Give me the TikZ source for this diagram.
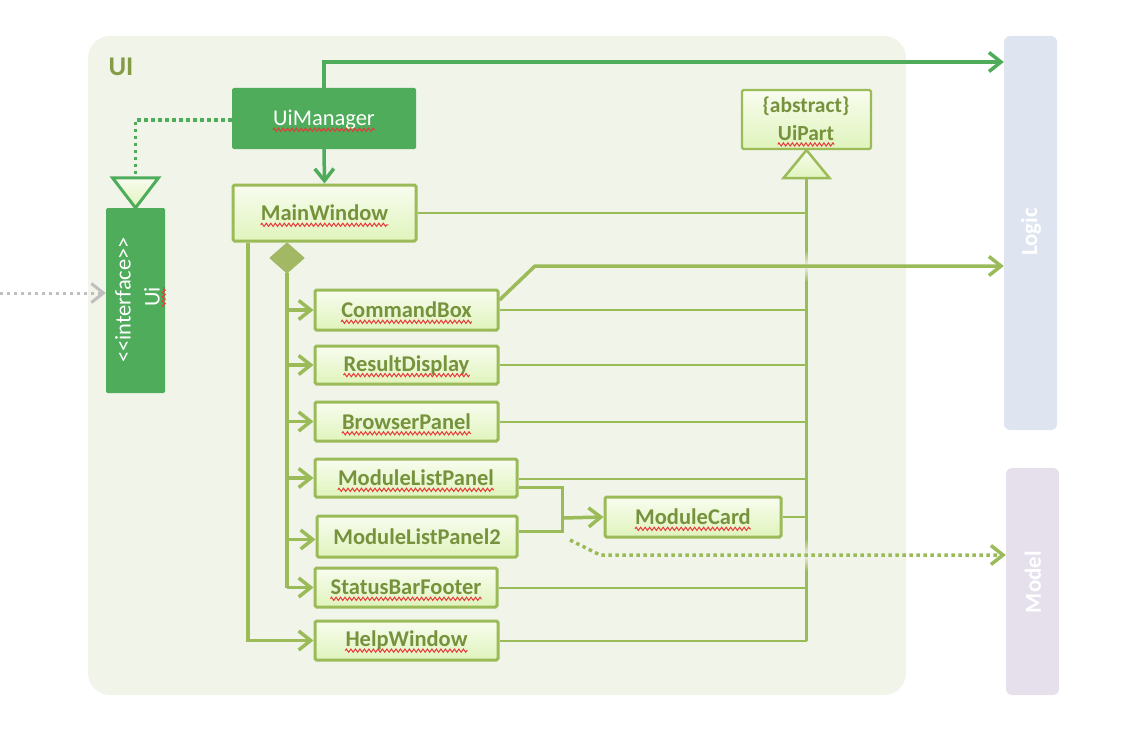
\documentclass[tikz,border=0pt]{standalone}
\usepackage{fontspec}
\setmainfont{Carlito}
\usetikzlibrary{arrows.meta,calc,decorations.pathmorphing,fadings}
\tikzfading[name=myglow, inner color=transparent!0, outer color=transparent!100]
\definecolor{uigreen}{HTML}{4EAC5B}
\definecolor{olive}{HTML}{9BBB59}
\definecolor{olivetext}{HTML}{76923C}
\definecolor{uilabel}{HTML}{849C45}
\definecolor{uibg}{HTML}{F1F4E9}
\definecolor{gradtop}{HTML}{F8FCEF}
\definecolor{gradbot}{HTML}{E0F4BC}
\definecolor{logicbg}{HTML}{DFE5F0}
\definecolor{modelbg}{HTML}{E5E0EC}
\definecolor{squigred}{HTML}{E8393A}
\definecolor{grayarrow}{HTML}{BFBFBF}
\definecolor{diafill}{HTML}{A2B865}
\newcommand\redsquig[1]{\draw[squig] ($(#1.base west)!4pt!-90:(#1.base east)$) -- ($(#1.base east)!4pt!90:(#1.base west)$);}
\begin{document}
\begin{tikzpicture}[x=1pt,y=-1pt,
  cls/.style={draw=olive, line width=3pt, top color=gradtop, bottom color=gradbot, rounded corners=1.5pt, inner sep=0pt},
  clstxt/.style={inner sep=0pt, font=\fontsize{22.5}{26}\selectfont\bfseries, text=olivetext},
  solid green/.style={fill=uigreen, rounded corners=1.5pt, inner sep=0pt},
  whitetxt/.style={inner sep=0pt, font=\fontsize{22.5}{26}\selectfont, text=white},
  squig/.style={draw=squigred, line width=1pt, decorate, decoration={zigzag, amplitude=1.6pt, segment length=4.5pt}},
  assoc/.style={draw=olive, line width=2pt},
  bar/.style={draw=olive, line width=3.5pt},
  tip/.style={-{Straight Barb[length=12pt,width=19pt]}},
  comp/.style={draw=olive, line width=3.5pt, tip},
  deparrow/.style={draw=uigreen, line width=3.5pt, tip},
  glow/.style={fill=uibg, path fading=myglow},
]
\useasboundingbox (0,0) rectangle (1128,752);

% regions
\node[fill=uibg, rounded corners=22pt, minimum width=818pt, minimum height=659pt, inner sep=0pt] (uiarea) at (497,365.5) {};
\node[uilabel, inner sep=0pt, font=\fontsize{27}{28}\selectfont\bfseries] (uilbl) at (121,67) {UI};
\node[fill=logicbg, rounded corners=6pt, minimum width=53pt, minimum height=394pt, inner sep=0pt] (logic) at (1030.5,233) {};
\node[rotate=90, inner sep=0pt, text=white, font=\fontsize{23}{26}\selectfont\bfseries] (logict) at (1031,232) {Logic};
\node[fill=modelbg, rounded corners=6pt, minimum width=53pt, minimum height=227pt, inner sep=0pt] (model) at (1032.5,581.5) {};
\node[rotate=90, inner sep=0pt, text=white, font=\fontsize{23}{26}\selectfont\bfseries] (modelt) at (1033,582) {Model};

% green classes
\node[solid green, minimum width=184pt, minimum height=61pt] (uim) at (324,118.5) {};
\node[whitetxt] (uimt) at (324,120) {UiManager};
\redsquig{uimt}
\node[solid green, minimum width=59pt, minimum height=185pt] (uiif) at (135.5,300.5) {};
\node[whitetxt, rotate=90] (uiift) at (123,300) {<{}<interface>{}>};
\node[whitetxt, rotate=90] (uiiut) at (152,297) {Ui};
\redsquig{uiiut}

% olive classes
\node[cls, minimum width=183pt, minimum height=56pt] (mw) at (324.5,213) {};
\node[clstxt] (mwt) at (mw) {MainWindow};
\node[cls, line width=2.2pt, minimum width=129pt, minimum height=59pt] (uip) at (806.5,119.5) {};
\node[clstxt, font=\fontsize{21.5}{24}\selectfont\bfseries] (uipa) at (806,106) {\{abstract\}};
\node[clstxt, font=\fontsize{21.5}{24}\selectfont\bfseries] (uipt) at (806,133) {UiPart};
\node[cls, minimum width=183pt, minimum height=40pt] (cb) at (406.5,310) {};
\node[clstxt] (cbt) at (cb) {CommandBox};
\node[cls, minimum width=183pt, minimum height=38pt] (rd) at (406.5,365) {};
\node[clstxt] (rdt) at (rd) {ResultDisplay};
\node[cls, minimum width=183pt, minimum height=39pt] (bp) at (406.5,421.5) {};
\node[clstxt] (bpt) at (bp) {BrowserPanel};
\node[cls, minimum width=202pt, minimum height=38pt] (mlp) at (416,478) {};
\node[clstxt] (mlpt) at (mlp) {ModuleListPanel};
\node[cls, minimum width=200pt, minimum height=41pt] (mlp2) at (417,536.5) {};
\node[clstxt] (mlp2t) at (mlp2) {ModuleListPanel2};
\node[cls, minimum width=182pt, minimum height=39pt] (sbf) at (406,587.5) {};
\node[clstxt] (sbft) at (sbf) {StatusBarFooter};
\node[cls, minimum width=183pt, minimum height=39pt] (hw) at (406.5,640.5) {};
\node[clstxt] (hwt) at (hw) {HelpWindow};
\node[cls, minimum width=176pt, minimum height=40pt] (mc) at (693,517) {};
\node[clstxt] (mct) at (mc) {ModuleCard};

\redsquig{mwt}\redsquig{uipt}\redsquig{cbt}\redsquig{rdt}\redsquig{bpt}
\redsquig{mlpt}\redsquig{sbft}\redsquig{hwt}\redsquig{mct}

% inheritance to UiPart
\draw[olive, line width=2.5pt, top color=gradtop, bottom color=gradbot, line join=miter]
  (uip.south) -- ++(-23,28) -- ++(46,0) -- cycle;
\coordinate (barTop) at (806.5,177);
\coordinate (barBot) at (806.5,641);
\draw[bar] (barTop) -- (barBot);
\draw[assoc] (mw.east) -- (mw.east -| barTop);
\draw[assoc] (cb.east) -- (cb.east -| barTop);
\draw[assoc] (rd.east) -- (rd.east -| barTop);
\draw[assoc] (bp.east) -- (bp.east -| barTop);
\draw[assoc] ([yshift=-1pt]mlp.east) -- ([yshift=-1pt]mlp.east -| barTop);
\draw[assoc] (mc.east) -- (mc.east -| barTop);
\draw[assoc] (sbf.east) -- (sbf.east -| barTop);
\draw[assoc] (hw.east) -- (hw.east -| barTop);

% UiManager realizes Ui
\coordinate (realTop) at ($(uiif.north)+(0,-30)$);
\draw[uigreen, line width=3.5pt, dash pattern=on 3.5pt off 3.5pt] ([yshift=-1.5pt]uim.west) -| (realTop);
\draw[uigreen, line width=3pt, top color=gradtop, bottom color=gradbot, line join=miter]
  (uiif.north) -- ++(-23,-30) -- ++(46,0) -- cycle;

% external to Ui
\coordinate (grayStart) at (0,293);
\draw[grayarrow, line width=3pt, dash pattern=on 3pt off 4pt, tip]
  (grayStart) -- (grayStart -| uiif.west);

% UiManager -> Logic, UiManager -> MainWindow
\draw[deparrow] (uim.north) -- (uim.north |- 0,62) -- (logic.west |- 0,62);
\draw[deparrow] (uim.south) -- (mw.north);

% composition
\coordinate (diaC) at (287,258);
\draw[fill=diafill, draw=diafill, line width=1pt, line join=round]
  ($(diaC)+(-17,0)$) -- ($(diaC)+(0,-15)$) -- ($(diaC)+(17,0)$) -- ($(diaC)+(0,15)$) -- cycle;
\coordinate (diaB) at ($(diaC)+(0,15)$);
\draw[bar] (diaB) -- (diaB |- sbf.west);
\draw[comp] (diaB |- cb.west) -- (cb.west);
\draw[comp] (diaB |- rd.west) -- (rd.west);
\draw[comp] (diaB |- bp.west) -- (bp.west);
\draw[comp] (diaB |- mlp.west) -- (mlp.west);
\draw[comp] ([yshift=-3pt]diaB |- mlp2.west) -- ([yshift=-3pt]mlp2.west);
\draw[comp] (diaB |- sbf.west) -- (sbf.west);
\draw[comp] (mw.south -| 248,0) -- (248,0 |- hw.west) -- (hw.west);

% ModuleListPanels -> ModuleCard
\coordinate (mcJ) at (562,518);
\draw[assoc, line width=3pt] ([yshift=-9pt]mlp.east) -| (mcJ);
\draw[assoc, line width=3pt] ([yshift=5.5pt]mlp2.east) -| (mcJ);
\draw[comp] (mcJ) -- (mc.west);

% CommandBox -> Logic
\fill[glow] (806.5,266) ellipse (10pt and 16pt);
\draw[comp] ([yshift=10pt]cb.east) -- (535,266) -- (logic.west |- 0,266);

% ModuleListPanel2 -> Model (dotted)
\coordinate (dotStart) at (570,540);
\fill[glow] (806.5,555) ellipse (10pt and 16pt);
\draw[olive, line width=3.5pt, dash pattern=on 3.5pt off 3.5pt, tip]
  (dotStart) -- (600,555) -- (model.west |- 0,555);
\end{tikzpicture}
\end{document}
